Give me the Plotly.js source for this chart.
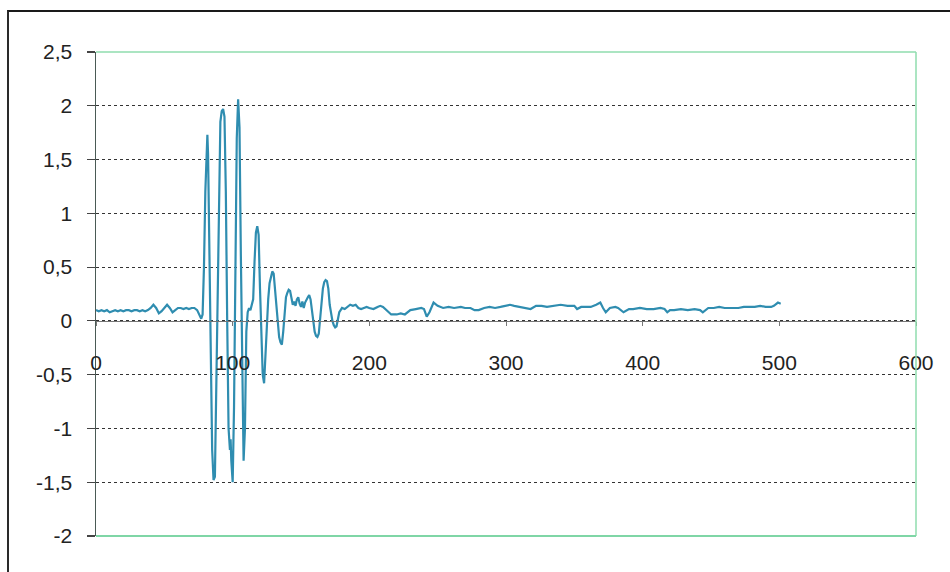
<!DOCTYPE html>
<html>
<head>
<meta charset="utf-8">
<script src="https://cdn.plot.ly/plotly-3.0.1.min.js"></script>
<style>
html,body{margin:0;padding:0;background:#fff;}
#wrap{position:relative;width:950px;height:572px;overflow:hidden;}
#chart{position:absolute;left:0;top:0;width:950px;height:572px;}
#frame{position:absolute;left:7px;top:10px;width:960px;height:580px;border-top:2px solid #1a1a1a;border-left:2px solid #2a2a2a;pointer-events:none;}
</style>
</head>
<body>
<div id="wrap"><div id="chart"></div><div id="frame"></div></div>
<script>
// Sample index (x) and signal amplitude (y)
const xs = [
  0,2,4,6,8,10,12,14,16,18,20,22,24,26,28,30,32,34,36,38,
  40,42,44,46,48,50,52,54,56,58,60,62,64,66,68,70,72,74,76,77,78,
  79,80,81,81.5,82,83,84,85,86,87,88,89,90,91,92,93,94,95,96,97,98,98.5,99,100,
  101,102,103,104,105,106,107,108,109,110,111,112,113,114,115,116,117,118,119,120,
  121,122,123,124,125,126,127,128,129,130,131,132,133,134,135,136,137,138,139,140,
  141,142,143,144,145,146,147,148,149,150,151,152,153,154,155,156,157,158,159,160,
  161,162,163,164,165,166,167,168,169,170,171,172,173,174,175,176,177,178,179,180,
  182,184,186,188,190,192,194,196,198,200,203,206,208,210,213,216,220,223,226,230,
  234,238,240,242,244,247,250,254,258,262,267,270,274,277,280,284,288,292,296,300,
  303,306,310,314,318,322,326,330,335,340,345,350,352,355,358,362,366,369,371,373,
  376,380,382,386,390,393,398,403,408,413,416,418,420,423,428,433,438,442,444,446,
  448,452,456,460,465,470,474,478,482,486,490,494,496,499,501
];
const ys = [
  0.10,0.09,0.10,0.09,0.10,0.08,0.09,0.10,0.09,0.10,0.09,0.10,0.10,0.09,0.10,0.10,0.09,0.10,0.09,0.10,
  0.12,0.15,0.12,0.07,0.09,0.12,0.15,0.12,0.08,0.10,0.12,0.12,0.11,0.12,0.11,0.12,0.12,0.10,0.05,0.02,0.06,
  0.5,1.2,1.6,1.73,1.55,0.8,-0.3,-1.2,-1.48,-1.45,-0.6,0.5,1.4,1.85,1.95,1.97,1.9,1.2,0.0,-1.0,-1.2,-1.1,-1.3,-1.5,
  -0.8,0.6,1.7,2.06,1.8,0.6,-0.6,-1.3,-1.0,-0.1,0.08,0.12,0.10,0.15,0.20,0.55,0.82,0.88,0.80,0.30,
  -0.2,-0.5,-0.58,-0.3,0.0,0.2,0.35,0.42,0.46,0.44,0.3,0.1,-0.05,-0.15,-0.2,-0.22,-0.1,0.1,0.22,0.26,
  0.29,0.28,0.2,0.15,0.18,0.14,0.2,0.22,0.16,0.13,0.18,0.12,0.17,0.2,0.22,0.24,0.2,0.1,0.0,-0.1,
  -0.14,-0.15,-0.12,0.05,0.2,0.3,0.36,0.38,0.37,0.3,0.15,0.05,0.0,-0.04,-0.06,-0.05,0.02,0.08,0.1,0.12,
  0.11,0.13,0.15,0.14,0.15,0.12,0.11,0.12,0.13,0.12,0.11,0.13,0.14,0.13,0.09,0.06,0.06,0.07,0.06,0.10,
  0.11,0.12,0.11,0.04,0.08,0.17,0.14,0.12,0.13,0.12,0.13,0.12,0.12,0.10,0.10,0.12,0.13,0.12,0.13,0.14,
  0.15,0.14,0.13,0.12,0.11,0.14,0.14,0.13,0.14,0.15,0.14,0.14,0.11,0.13,0.13,0.13,0.15,0.17,0.12,0.08,
  0.12,0.13,0.12,0.08,0.11,0.11,0.12,0.11,0.11,0.12,0.11,0.08,0.10,0.10,0.11,0.10,0.11,0.10,0.08,0.10,
  0.12,0.12,0.13,0.12,0.12,0.12,0.13,0.13,0.13,0.14,0.13,0.13,0.14,0.17,0.16
];
const xTickVals = [0,100,200,300,400,500,600];
const xTickText = ["0","100","200","300","400","500","600"];
const yTickVals = [2.5,2,1.5,1,0.5,0,-0.5,-1,-1.5,-2];
const yTickText = ["2,5","2","1,5","1","0,5","0","-0,5","-1","-1,5","-2"];

const trace = {
  x: xs, y: ys, type: 'scatter', mode: 'lines',
  line: {color: '#2f8db0', width: 2.2},
  hoverinfo: 'skip', showlegend: false
};

const tickFont = {family: '"Liberation Sans", Arial, sans-serif', size: 21, color: '#222'};

const layout = {
  width: 950, height: 572,
  margin: {l: 96, r: 34, t: 52, b: 36},
  paper_bgcolor: 'rgba(0,0,0,0)', plot_bgcolor: '#fff',
  separators: ', ',
  showlegend: false,
  xaxis: {
    range: [0, 600], tickvals: xTickVals, ticktext: xTickText,
    anchor: 'free', position: 2/4.5,
    showline: true, linecolor: '#777', linewidth: 1.5,
    ticks: 'outside', ticklen: 4, tickcolor: '#777', tickwidth: 1,
    ticklabelstandoff: 18,
    showgrid: false, zeroline: false, tickfont: tickFont
  },
  yaxis: {
    range: [-2, 2.5], tickvals: yTickVals, ticktext: yTickText,
    showline: true, linecolor: '#4a5a55', linewidth: 1.5,
    ticks: 'outside', ticklen: 8, tickcolor: '#444', tickwidth: 1.2,
    ticklabelstandoff: 10,
    showgrid: true, gridcolor: '#333', griddash: 'dot', gridwidth: 1,
    zeroline: false, tickfont: tickFont
  },
  shapes: [
    {type: 'line', xref: 'paper', yref: 'paper', x0: 0, x1: 1, y0: 1, y1: 1, line: {color: '#8fdcae', width: 1.5}},
    {type: 'line', xref: 'paper', yref: 'paper', x0: 1, x1: 1, y0: 0, y1: 1, line: {color: '#8fdcae', width: 1.5}},
    {type: 'line', xref: 'paper', yref: 'paper', x0: 0, x1: 1, y0: 0, y1: 0, line: {color: '#7fd6a6', width: 2}}
  ]
};

Plotly.newPlot('chart', [trace], layout, {staticPlot: true, displayModeBar: false});
</script>
</body>
</html>
